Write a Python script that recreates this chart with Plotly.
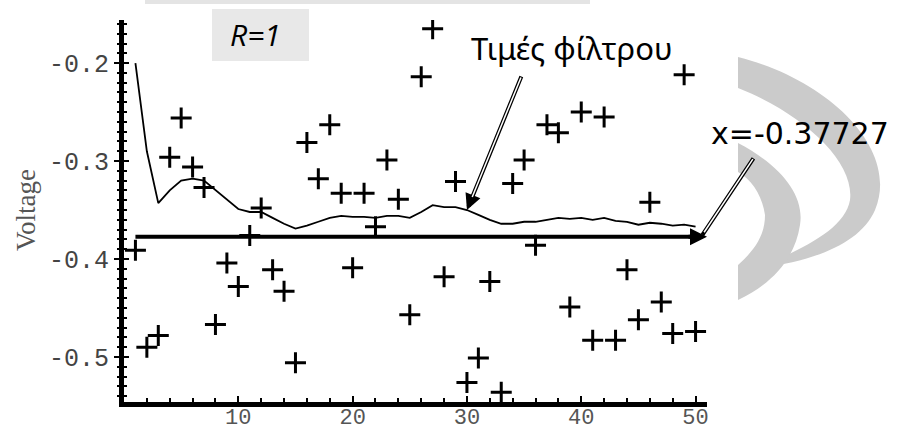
import plotly.graph_objects as go

# ---------------- data ----------------
sample_x = list(range(1, 51))
measurements = [
    -0.391, -0.490, -0.478, -0.296, -0.256, -0.306, -0.327, -0.467, -0.404, -0.428,
    -0.376, -0.348, -0.411, -0.433, -0.506, -0.281, -0.318, -0.263, -0.333, -0.409,
    -0.333, -0.367, -0.299, -0.339, -0.457, -0.214, -0.165, -0.418, -0.321, -0.526,
    -0.501, -0.423, -0.536, -0.323, -0.299, -0.386, -0.263, -0.271, -0.449, -0.250,
    -0.483, -0.255, -0.483, -0.411, -0.462, -0.342, -0.444, -0.476, -0.212, -0.474,
]
filter_values = [
    -0.200, -0.290, -0.343, -0.330, -0.320, -0.318, -0.320, -0.330, -0.340, -0.349,
    -0.352, -0.352, -0.358, -0.364, -0.369, -0.366, -0.362, -0.358, -0.356, -0.357,
    -0.357, -0.358, -0.356, -0.356, -0.358, -0.352, -0.345, -0.347, -0.347, -0.350,
    -0.355, -0.360, -0.364, -0.364, -0.362, -0.362, -0.360, -0.358, -0.359, -0.358,
    -0.360, -0.358, -0.361, -0.362, -0.365, -0.363, -0.364, -0.366, -0.365, -0.367,
]
true_value = -0.37727
x_ticks = [10, 20, 30, 40, 50]
y_ticks = [-0.5, -0.4, -0.3, -0.2]
y_tick_text = ["-0.5", "-0.4", "-0.3", "-0.2"]
filter_label = "Τιμές φίλτρου"
value_label = "x=-0.37727"
r_label = "R=1"
y_title = "Voltage"

# ---------------- layout geometry ----------------
W, H = 897, 432
L, R, T, B = 124, 707, 20, 402
XR = [0, 51.0]
YR = [-0.546, -0.156]


def px2paper(px, py):
    return (px - L) / (R - L), (B - py) / (B - T)


def path_px(cmds):
    out = []
    for c in cmds:
        if isinstance(c, str):
            out.append(c)
        else:
            x, y = px2paper(*c)
            out.append(f"{x:.4f},{y:.4f}")
    return " ".join(out)


fig = go.Figure()

# horizontal line at the estimated value
fig.add_trace(go.Scatter(x=[1, 50.3], y=[true_value, true_value], mode="lines",
                         line=dict(color="black", width=4), hoverinfo="skip",
                         showlegend=False))
# filter estimate
fig.add_trace(go.Scatter(x=sample_x, y=filter_values, mode="lines",
                         line=dict(color="black", width=1.8), hoverinfo="skip",
                         showlegend=False))
# measurements
fig.add_trace(go.Scatter(x=sample_x, y=measurements, mode="markers",
                         marker=dict(symbol="cross-thin", size=15,
                                     line=dict(color="black", width=3)),
                         hoverinfo="skip", showlegend=False))
# dummy trace for the inner-tick overlay axis
fig.add_trace(go.Scatter(x=[None], y=[None], yaxis="y2", showlegend=False,
                         hoverinfo="skip"))

fig.update_layout(
    width=W, height=H,
    margin=dict(l=L, r=W - R, t=T, b=H - B, pad=0),
    paper_bgcolor="white", plot_bgcolor="white",
    showlegend=False,
    xaxis=dict(range=XR, showgrid=False, zeroline=False, automargin=False,
               showline=True, linecolor="black", linewidth=5,
               tickmode="array", tickvals=x_ticks, ticktext=[str(v) for v in x_ticks],
               ticks="inside", ticklen=6, tickwidth=2, tickcolor="black",
               ticklabelstandoff=-9,
               minor=dict(tick0=0, dtick=2, ticks="inside", ticklen=4,
                          tickwidth=2, tickcolor="black", showgrid=False),
               tickfont=dict(family="Liberation Mono", size=22, color="#555555")),
    yaxis=dict(range=YR, showgrid=False, zeroline=False, automargin=False,
               showline=True, linecolor="black", linewidth=5,
               tickmode="array", tickvals=y_ticks, ticktext=y_tick_text,
               ticks="outside", ticklen=5, tickwidth=2, tickcolor="black",
               minor=dict(tick0=-0.55, dtick=0.01, ticks="outside", ticklen=2,
                          tickwidth=2, tickcolor="black", showgrid=False),
               tickfont=dict(family="Liberation Mono", size=25, color="#444444")),
    yaxis2=dict(range=YR, overlaying="y", side="left", showgrid=False, automargin=False,
                zeroline=False, showline=False, showticklabels=False,
                tickmode="array", tickvals=y_ticks,
                ticks="inside", ticklen=5, tickwidth=2, tickcolor="black",
                minor=dict(tick0=-0.55, dtick=0.01, ticks="inside", ticklen=3,
                           tickwidth=2, tickcolor="black", showgrid=False)),
)

shapes = []
# faint gray strip at the top
x0, y0 = px2paper(145, 4)
x1, y1 = px2paper(590, 0)
shapes.append(dict(type="rect", xref="paper", yref="paper", x0=x0, y0=y0, x1=x1, y1=y1,
                   fillcolor="#e4e4e4", line=dict(width=0), layer="below"))
# R=1 box
x0, y0 = px2paper(212, 61)
x1, y1 = px2paper(309, 9)
shapes.append(dict(type="rect", xref="paper", yref="paper", x0=x0, y0=y0, x1=x1, y1=y1,
                   fillcolor="#e8e8e8", line=dict(width=0), layer="below"))
# watermark swoosh
outer = path_px(["M", (738, 57), "C", (830, 80), (900, 150), (875, 210),
                 "C", (860, 245), (810, 262), (757, 268),
                 "C", (800, 250), (845, 230), (850, 200),
                 "C", (855, 160), (800, 112), (738, 88), "Z"])
inner = path_px(["M", (738, 143), "C", (780, 165), (805, 195), (800, 225),
                 "C", (795, 260), (770, 285), (738, 300),
                 "L", (738, 265), "C", (755, 250), (765, 235), (765, 215),
                 "C", (762, 195), (752, 180), (738, 172), "Z"])
for p in (outer, inner):
    shapes.append(dict(type="path", xref="paper", yref="paper", path=p,
                       fillcolor="#cbcbcb", line=dict(width=0), layer="below"))
fig.update_layout(shapes=shapes)

ann = []
# Voltage axis title
ax_, ay_ = px2paper(26, 210)
ann.append(dict(xref="paper", yref="paper", x=ax_, y=ay_, text=y_title, textangle=-90,
                showarrow=False, font=dict(family="Liberation Serif", size=27, color="#555555"),
                xanchor="center", yanchor="middle"))
# R=1
ax_, ay_ = px2paper(255, 35)
ann.append(dict(xref="paper", yref="paper", x=ax_, y=ay_, text="<i>" + r_label + "</i>",
                showarrow=False, font=dict(family="Open Sans", size=30, color="black"),
                xanchor="center", yanchor="middle"))
# filter label
ax_, ay_ = px2paper(572, 48)
ann.append(dict(xref="paper", yref="paper", x=ax_, y=ay_, text=filter_label,
                showarrow=False, font=dict(family="Noto Sans", size=31, color="black"),
                xanchor="center", yanchor="middle"))
# value label
ax_, ay_ = px2paper(800, 133)
ann.append(dict(xref="paper", yref="paper", x=ax_, y=ay_, text=value_label,
                showarrow=False, font=dict(family="DejaVu Sans", size=30, color="black"),
                xanchor="center", yanchor="middle"))


def double_arrow(tip_x, tip_y, dx, dy, head=True):
    # black thick shaft + white thin core -> hollow double-line arrow
    ann.append(dict(x=tip_x, y=tip_y, xref="x", yref="y", ax=dx, ay=dy,
                    axref="pixel", ayref="pixel", text="", showarrow=True,
                    arrowhead=2 if head else 0, arrowsize=0.8, arrowwidth=4,
                    arrowcolor="black", standoff=0))
    ann.append(dict(x=tip_x, y=tip_y, xref="x", yref="y", ax=dx, ay=dy,
                    axref="pixel", ayref="pixel", text="", showarrow=True,
                    arrowhead=0, arrowwidth=1.5, arrowcolor="white",
                    standoff=14 if head else 3, startstandoff=1))


# arrow from "Τιμές φίλτρου" to the filter curve
double_arrow(30, filter_values[29], 522 - 467, 75 - 210)
# arrow from "x=-0.37727" to the end of the horizontal line
double_arrow(50.6, true_value + 0.002, 753 - 701, 154 - 232, head=False)
# arrowhead at the end of the horizontal line
ann.append(dict(x=51.0, y=true_value, xref="x", yref="y", ax=-20, ay=0,
                axref="pixel", ayref="pixel", text="", showarrow=True,
                arrowhead=2, arrowsize=0.85, arrowwidth=4, arrowcolor="black",
                standoff=0))

fig.update_layout(annotations=ann)

fig.write_html("out.html")
